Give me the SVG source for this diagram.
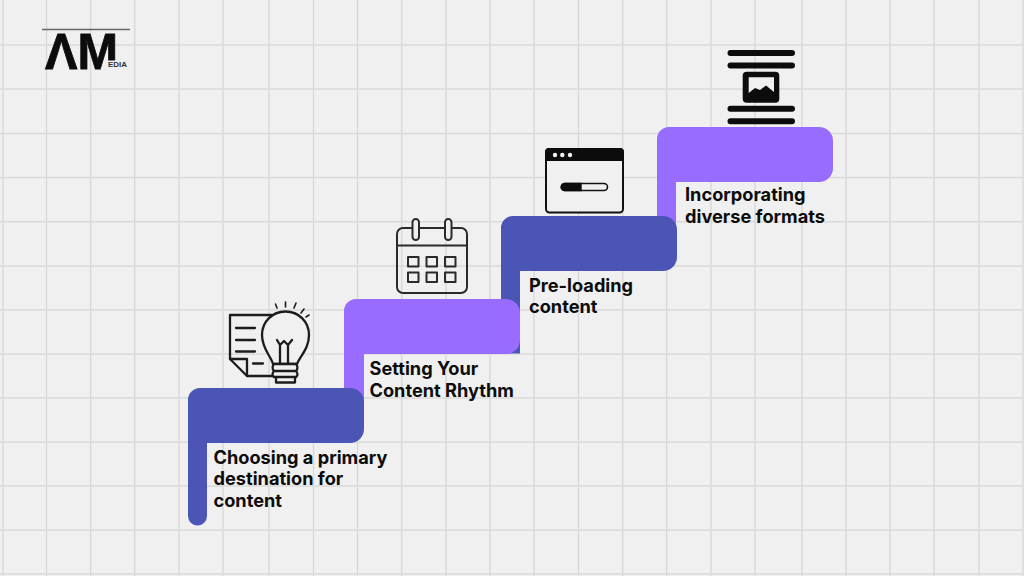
<svg xmlns="http://www.w3.org/2000/svg" width="1024" height="576" viewBox="0 0 1024 576">
<defs>
<style>
.g{stroke:#d9d9d9;stroke-width:1.5;fill:none}
.blue{fill:#4a55b5}
.purple{fill:#976cff}
.t{font-family:Inter,"Liberation Sans",sans-serif;font-weight:700;font-size:18.2px;fill:#0c0c0c}
.i{fill:none;stroke:#1c1c1c;stroke-width:2.3;stroke-linecap:round;stroke-linejoin:round}
.c{fill:none;stroke:#2a2a2a;stroke-width:2;stroke-linecap:round;stroke-linejoin:round}
.bgf{fill:#f0f0f0}
.k{fill:#0c0c0c}
.bar{stroke:#0c0c0c;stroke-width:6;stroke-linecap:round;fill:none}
.lg{font-family:"Liberation Sans",sans-serif;font-weight:700;fill:#0c0c0c}
</style>
</defs>
<rect width="1024" height="576" fill="#f0f0f0"/>
<path id="grid" class="g" d="M3 0V576M46.500 0V576M90.700 0V576M134.700 0V576M179 0V576M223 0V576M269 0V576M313.500 0V576M357.500 0V576M401.700 0V576M446 0V576M490 0V576M534 0V576M578.500 0V576M622.700 0V576M666.700 0V576M711 0V576M755 0V576M802 0V576M846 0V576M890 0V576M934 0V576M979 0V576M1023 0V576M0 45H1024M0 89H1024M0 133.500H1024M0 177.500H1024M0 221.700H1024M0 266H1024M0 310H1024M0 354H1024M0 398H1024M0 442H1024M0 486H1024M0 530H1024M0 574H1024"/>

<g id="logo">
<line x1="42" y1="29.500" x2="130" y2="29.500" stroke="#666" stroke-width="1.500"/>
<text class="lg" x="45" y="69" font-size="50" textLength="73" lengthAdjust="spacingAndGlyphs" stroke="#0c0c0c" stroke-width="0.800">ΛM</text>
<rect x="105.500" y="60.500" width="13" height="10" fill="#f0f0f0"/>
<text class="lg" x="108" y="67" font-size="7.500" textLength="19" lengthAdjust="spacingAndGlyphs" style="fill:#333">EDIA</text>
</g>

<g id="step-4">
<path class="purple" d="M657 139a12 12 0 0 1 12-12H819a14 14 0 0 1 14 14V168a14 14 0 0 1-14 14H676V260H657Z"/>
<text class="t"><tspan x="685" y="201">Incorporating</tspan><tspan x="685" y="222.500">diverse formats</tspan></text>
<g id="icon-formats">
<path class="bar" d="M730.500 53H792M730.500 65.500H792M730.500 108.700H792M730.500 121.300H792"/>
<rect x="742.700" y="71.700" width="36.600" height="31" rx="4" class="k"/>
<path class="bgf" d="M748.700 77.300H774V92L766 85.500L760 90L755 88L748.700 93Z"/>
</g>
</g>

<g id="step-3">
<path class="blue" d="M501 228a12 12 0 0 1 12-12H663a14 14 0 0 1 14 14V257a14 14 0 0 1-14 14H520V353.500H501Z"/>
<text class="t"><tspan x="529" y="291.500">Pre-loading</tspan><tspan x="529" y="313">content</tspan></text>
<g id="icon-loading">
<rect x="546" y="149" width="77" height="63.500" rx="3.500" stroke="#111" stroke-width="2" class="bgf"/>
<path class="k" d="M545 152a4 4 0 0 1 4-4H620a4 4 0 0 1 4 4V161H545Z"/>
<circle cx="555" cy="155" r="2.200" class="bgf"/><circle cx="562.300" cy="155" r="2.200" class="bgf"/><circle cx="570" cy="155" r="2.200" class="bgf"/>
<rect x="561.500" y="183.500" width="46" height="7" rx="3.500" stroke="#111" stroke-width="1.600" class="bgf"/>
<path class="k" d="M564.700 182.700H581.700V191.300H564.700a4.300 4.300 0 0 1 0-8.600Z"/>
</g>
</g>

<g id="step-2">
<path class="purple" d="M344 311a12 12 0 0 1 12-12H506a14 14 0 0 1 14 14V340a14 14 0 0 1-14 14H364V430H344Z"/>
<text class="t"><tspan x="369.500" y="375">Setting Your</tspan><tspan x="369.500" y="396.500">Content Rhythm</tspan></text>
<g id="icon-calendar">
<rect x="397" y="228" width="70" height="65" rx="6" class="c"/>
<line x1="397" y1="245.500" x2="467" y2="245.500" class="c"/>
<rect x="412.500" y="219" width="6.500" height="21" rx="3.250" class="c" style="fill:#f0f0f0"/>
<rect x="445" y="219" width="6.500" height="21" rx="3.250" class="c" style="fill:#f0f0f0"/>
<rect x="408" y="257" width="10.500" height="9.500" class="c"/><rect x="426.500" y="257" width="10.500" height="9.500" class="c"/><rect x="445" y="257" width="10.500" height="9.500" class="c"/>
<rect x="408" y="272.500" width="10.500" height="9.500" class="c"/><rect x="426.500" y="272.500" width="10.500" height="9.500" class="c"/><rect x="445" y="272.500" width="10.500" height="9.500" class="c"/>
</g>
</g>

<g id="step-1">
<path class="blue" d="M188 400a12 12 0 0 1 12-12H350a14 14 0 0 1 14 14V429a14 14 0 0 1-14 14H207V516a9.500 9.500 0 0 1-19 0Z"/>
<text class="t"><tspan x="213.500" y="463.500">Choosing a primary</tspan><tspan x="213.500" y="485">destination for</tspan><tspan x="213.500" y="506.500">content</tspan></text>
<g id="icon-idea">
<path class="i" d="M272 315H230V359L247 376H277"/>
<path class="i" d="M230 359H247V376"/>
<path class="i" d="M236 328H255M236 340H255M236 351.500H255M253 363.500H263"/>
<path class="i" d="M273 364C271 356 262 349 262 335C262 322 272 311.500 285.500 311.500C299 311.500 309 322 309 335C309 349 300 356 297 364Z" style="fill:#f0f0f0"/>
<path class="i" d="M277 340L280 345L284 341L288 345L292 340M280 345V364M288 345V364"/>
<path class="i" d="M274 364H296Q299 367.500 296 371H274Q271 367.500 274 364ZM274 371H296Q299 374.500 296 377H274Q271 374.500 274 371ZM276 377H295V382.500H276Z" style="fill:#f0f0f0"/>
<path class="i" d="M275.500 304L277 308M285.500 302V307M296 303L294 308M304 309L301 313M309 315L306 317" style="stroke-width:1.600"/>
</g>
</g>
</svg>
